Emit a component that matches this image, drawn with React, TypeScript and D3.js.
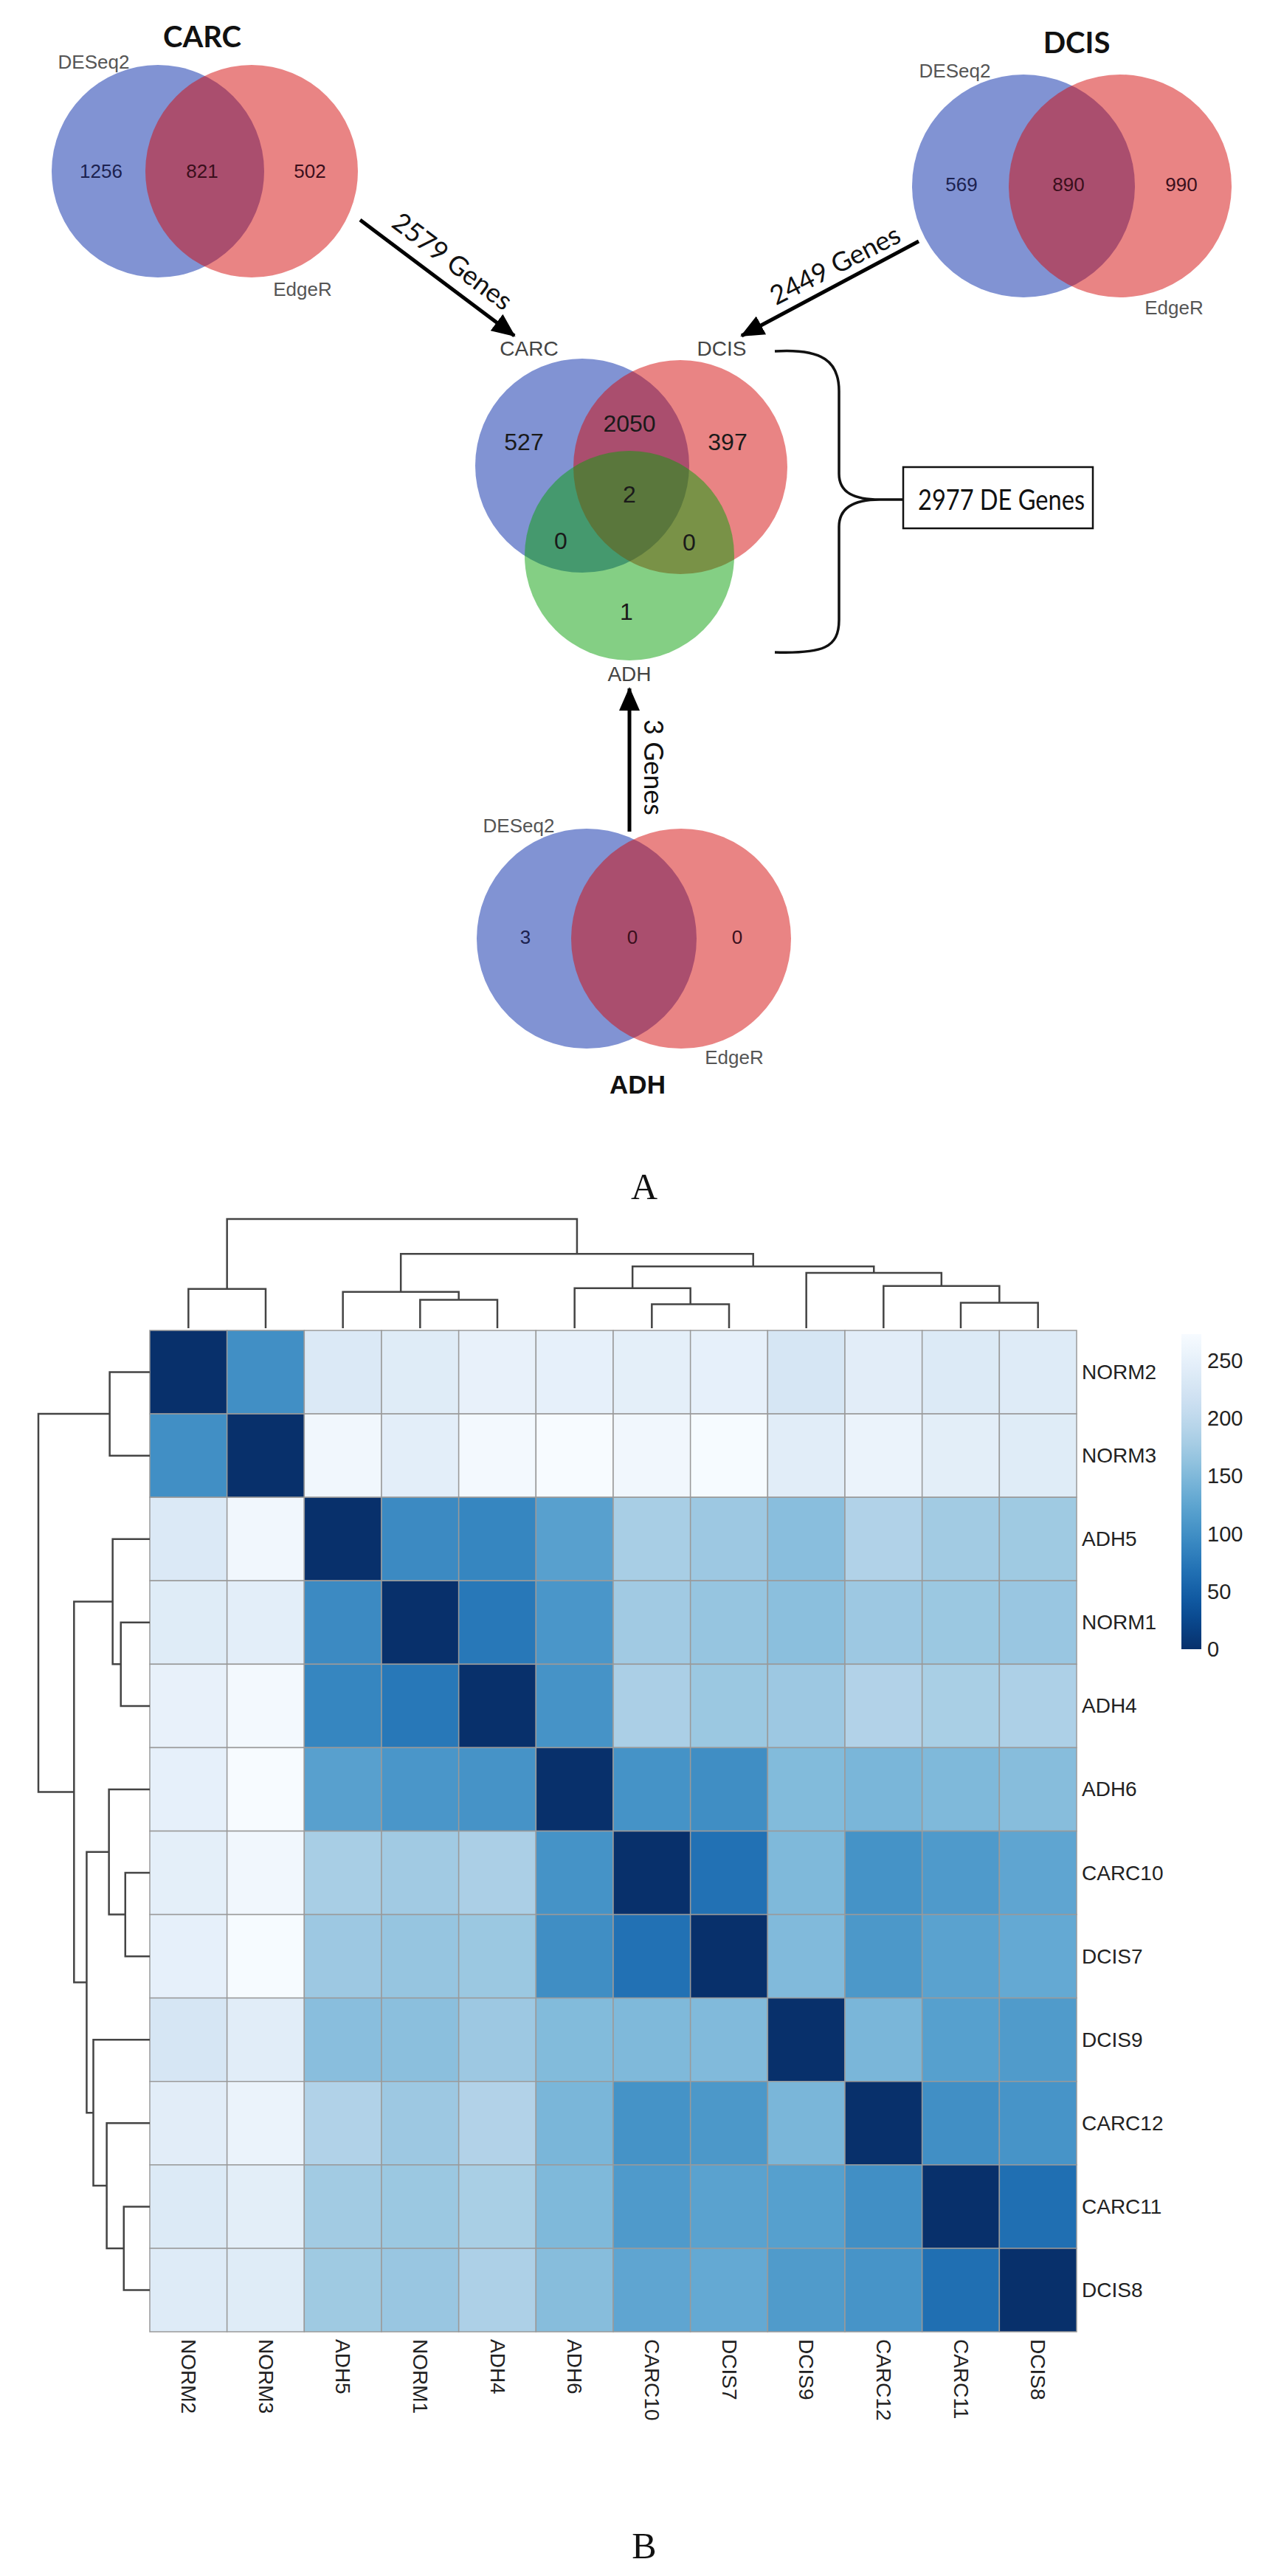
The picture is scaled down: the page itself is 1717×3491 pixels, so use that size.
import React from "react";
import * as d3 from "d3";

// ---------------- DATA ----------------
const methodLabels = ["DESeq2", "EdgeR"];
const carcCounts = [1256, 821, 502];
const dcisCounts = [569, 890, 990];
const adhCounts = [3, 0, 0];
const groupTitles = ["CARC", "DCIS", "ADH"];
const arrowLabels = ["2579 Genes", "2449 Genes", "3 Genes"];
// triple venn regions: CARC only, CARC∩DCIS, DCIS only, CARC∩ADH, all, DCIS∩ADH, ADH only
const tripleCounts = [527, 2050, 397, 0, 2, 0, 1];
const totalLabel = "2977 DE Genes";
const panelLabels = ["A", "B"];

const samples = ["NORM2", "NORM3", "ADH5", "NORM1", "ADH4", "ADH6", "CARC10", "DCIS7", "DCIS9", "CARC12", "CARC11", "DCIS8"];
const distNORM2 = [0, 100, 235, 240, 252, 250, 247, 250, 228, 244, 236, 238];
const distNORM3 = [100, 0, 265, 246, 268, 273, 265, 272, 243, 257, 245, 240];
const distADH5 = [235, 265, 0, 95, 90, 120, 180, 171, 157, 187, 175, 173];
const distNORM1 = [240, 246, 95, 0, 75, 108, 174, 166, 158, 171, 170, 168];
const distADH4 = [252, 268, 90, 75, 0, 105, 182, 170, 171, 188, 181, 184];
const distADH6 = [250, 273, 120, 108, 105, 0, 104, 99, 152, 146, 150, 155];
const distCARC10 = [247, 265, 180, 174, 182, 104, 0, 68, 150, 104, 113, 126];
const distDCIS7 = [250, 272, 171, 166, 170, 99, 68, 0, 151, 110, 122, 130];
const distDCIS9 = [228, 243, 157, 158, 171, 152, 150, 151, 0, 146, 119, 114];
const distCARC12 = [244, 257, 187, 171, 188, 146, 104, 110, 146, 0, 100, 106];
const distCARC11 = [236, 245, 175, 170, 181, 150, 113, 122, 119, 100, 0, 66];
const distDCIS8 = [238, 240, 173, 168, 184, 155, 126, 130, 114, 106, 66, 0];
const distRows = [distNORM2, distNORM3, distADH5, distNORM1, distADH4, distADH6, distCARC10, distDCIS7, distDCIS9, distCARC12, distCARC11, distDCIS8];
const colorbarTicks = [0, 50, 100, 150, 200, 250];
const colorMax = 273;

// hierarchical merges: [child A, child B, height]; merged node ids m1..m11
const merges: [string, string, number][] = [
  ["NORM2", "NORM3", 54],
  ["NORM1", "ADH4", 39],
  ["ADH5", "m2", 50],
  ["CARC10", "DCIS7", 33],
  ["ADH6", "m4", 55],
  ["CARC11", "DCIS8", 35],
  ["CARC12", "m6", 58],
  ["DCIS9", "m7", 76],
  ["m5", "m8", 85],
  ["m3", "m9", 102],
  ["m1", "m10", 150],
];

// ---------------- HELPERS ----------------
type TNode = { id: string; h: number; children?: TNode[] };
function buildTree(): TNode {
  const map = new Map<string, TNode>();
  samples.forEach((s) => map.set(s, { id: s, h: 0 }));
  merges.forEach(([a, b, h], i) => {
    const id = "m" + (i + 1);
    map.set(id, { id, h, children: [map.get(a)!, map.get(b)!] });
  });
  return map.get("m" + merges.length)!;
}

const SANS = "'Liberation Sans', Arial, sans-serif";
const CAL = "Lato, 'Open Sans', sans-serif";
const SERIF = "'Liberation Serif', 'Times New Roman', serif";

const BLUE = "#8193d3";
const RED = "#d40a0a";
const GREEN = "#099f09";

function Venn2(props: {
  c1: number; c2: number; cy: number; r: number; counts: number[];
  title: string; titlePos: [number, number]; deseqPos: [number, number]; edgePos: [number, number];
  countX: number[]; countY: number; titleBold: "cal" | "sans";
}) {
  const { c1, c2, cy, r, counts, title, titlePos, deseqPos, edgePos, countX, countY } = props;
  return (
    <g>
      <circle cx={c1} cy={cy} r={r} fill={BLUE} />
      <circle cx={c2} cy={cy} r={r} fill={RED} fillOpacity={0.5} />
      <text x={titlePos[0]} y={titlePos[1]} textAnchor="middle" dominantBaseline="central"
        fontFamily={props.titleBold === "cal" ? CAL : SANS} fontWeight="bold"
        fontSize={props.titleBold === "cal" ? 40 : 35} fill="#111">{title}</text>
      <text x={deseqPos[0]} y={deseqPos[1]} textAnchor="middle" dominantBaseline="central" fontFamily={SANS} fontSize={26} fill="#555">{methodLabels[0]}</text>
      <text x={edgePos[0]} y={edgePos[1]} textAnchor="middle" dominantBaseline="central" fontFamily={SANS} fontSize={26} fill="#555">{methodLabels[1]}</text>
      {counts.map((c, i) => (
        <text key={i} x={countX[i]} y={countY} textAnchor="middle" dominantBaseline="central" fontFamily={SANS} fontSize={26}
          fill={i === 0 ? "#1c2250" : "#3a0f1c"}>{c}</text>
      ))}
    </g>
  );
}

export default function App() {
  const W = 1717, H = 3491;
  const tree = d3.hierarchy<TNode>(buildTree(), (d) => d.children);
  const xBand = d3.scaleBand<string>().domain(samples).range([203, 1459]);
  const yBand = d3.scaleBand<string>().domain(samples).range([1803, 3160]);
  const colH = d3.scaleLinear().domain([0, 150]).range([1800, 1652]);
  const rowH = d3.scaleLinear().domain([0, 150]).range([203, 52]);
  const color = d3.scaleSequential((t: number) => d3.interpolateBlues(1 - t)).domain([0, colorMax]);
  const cb = d3.scaleLinear().domain([0, colorMax]).range([2235, 1808]);

  const pos = new Map<d3.HierarchyNode<TNode>, number>();
  tree.eachAfter((n) => {
    if (!n.children) pos.set(n, samples.indexOf(n.data.id));
    else pos.set(n, d3.mean(n.children, (c) => pos.get(c)!)!);
  });
  const idxToX = (p: number) => 203 + (p + 0.5) * xBand.bandwidth();
  const idxToY = (p: number) => 1803 + (p + 0.5) * yBand.bandwidth();

  const colSegs: string[] = [];
  const rowSegs: string[] = [];
  tree.each((n) => {
    if (!n.children) return;
    const [a, b] = n.children;
    const pa = pos.get(a)!, pb = pos.get(b)!;
    const hy = colH(n.data.h);
    colSegs.push(`M${idxToX(pa)},${colH(a.data.h)}V${hy}H${idxToX(pb)}V${colH(b.data.h)}`);
    const hx = rowH(n.data.h);
    rowSegs.push(`M${rowH(a.data.h)},${idxToY(pa)}H${hx}V${idxToY(pb)}H${rowH(b.data.h)}`);
  });

  const gradStops = d3.range(0, 1.0001, 0.05);

  return (
    <svg width={W} height={H} viewBox={`0 0 ${W} ${H}`} style={{ position: "absolute", left: 0, top: 0, background: "#fff" }}>
      <defs>
        <marker id="ah" markerUnits="userSpaceOnUse" markerWidth={34} markerHeight={28} refX={30} refY={14} orient="auto">
          <path d="M0,0 L32,14 L0,28 Z" fill="#000" />
        </marker>
        <linearGradient id="cbg" x1="0" y1="1" x2="0" y2="0">
          {gradStops.map((t) => (
            <stop key={t} offset={t} stopColor={color(t * colorMax)} />
          ))}
        </linearGradient>
      </defs>
      <rect x={0} y={0} width={W} height={H} fill="#fff" />

      {/* ---- Panel A ---- */}
      <Venn2 c1={214} c2={341} cy={232} r={144} counts={carcCounts} title={groupTitles[0]}
        titlePos={[274, 49]} deseqPos={[127, 84]} edgePos={[410, 392]} countX={[137, 274, 420]} countY={232} titleBold="cal" />
      <Venn2 c1={1387} c2={1518} cy={252} r={151} counts={dcisCounts} title={groupTitles[1]}
        titlePos={[1459, 57]} deseqPos={[1294, 96]} edgePos={[1591, 417]} countX={[1303, 1448, 1601]} countY={250} titleBold="cal" />
      <Venn2 c1={795} c2={923} cy={1272} r={149} counts={adhCounts} title={groupTitles[2]}
        titlePos={[864, 1469]} deseqPos={[703, 1119]} edgePos={[995, 1433]} countX={[712, 857, 999]} countY={1270} titleBold="sans" />

      {/* arrows */}
      <line x1={488} y1={298} x2={697} y2={455} stroke="#000" strokeWidth={5} markerEnd="url(#ah)" />
      <text transform={`translate(614,353) rotate(37)`} textAnchor="middle" dominantBaseline="central" fontFamily={CAL} fontSize={36} fill="#111">{arrowLabels[0]}</text>
      <line x1={1245} y1={327} x2={1005} y2={455} stroke="#000" strokeWidth={5} markerEnd="url(#ah)" />
      <text transform={`translate(1131,358) rotate(-27)`} textAnchor="middle" dominantBaseline="central" fontFamily={CAL} fontSize={36} fill="#111">{arrowLabels[1]}</text>
      <line x1={853} y1={1127} x2={853} y2={933} stroke="#000" strokeWidth={5} markerEnd="url(#ah)" />
      <text transform={`translate(887,1040) rotate(90)`} textAnchor="middle" dominantBaseline="central" fontFamily={CAL} fontSize={36} fill="#111">{arrowLabels[2]}</text>

      {/* triple venn */}
      <g>
        <circle cx={789} cy={631} r={145} fill={BLUE} />
        <circle cx={922} cy={633} r={145} fill={RED} fillOpacity={0.5} />
        <circle cx={853} cy={753} r={142} fill={GREEN} fillOpacity={0.5} />
        <text x={717} y={472} textAnchor="middle" dominantBaseline="central" fontFamily={SANS} fontSize={28} fill="#444">{groupTitles[0]}</text>
        <text x={978} y={472} textAnchor="middle" dominantBaseline="central" fontFamily={SANS} fontSize={28} fill="#444">{groupTitles[1]}</text>
        <text x={853} y={913} textAnchor="middle" dominantBaseline="central" fontFamily={SANS} fontSize={28} fill="#444">{groupTitles[2]}</text>
        {tripleCounts.map((c, i) => {
          const p = [[710, 599], [853, 574], [986, 599], [760, 733], [853, 670], [934, 735], [849, 829]][i];
          return (
            <text key={i} x={p[0]} y={p[1]} textAnchor="middle" dominantBaseline="central" fontFamily={SANS} fontSize={32} fill="#1a1a1a">{c}</text>
          );
        })}
      </g>

      {/* brace and box */}
      <path d="M1050,476 C1115,472 1137,490 1137,530 L1137,642 C1137,668 1158,677 1192,677 L1224,677 M1192,677 C1158,677 1137,688 1137,714 L1137,840 C1137,878 1115,886 1050,884"
        fill="none" stroke="#111" strokeWidth={3.5} />
      <rect x={1224} y={633} width={257} height={83} fill="#fff" stroke="#111" strokeWidth={2.5} />
      <text x={1244} y={676} dominantBaseline="central" fontFamily={CAL} fontSize={39} textLength={226} lengthAdjust="spacingAndGlyphs" fill="#111">{totalLabel}</text>

      <text x={873} y={1608} textAnchor="middle" dominantBaseline="central" fontFamily={SERIF} fontSize={50} fill="#111">{panelLabels[0]}</text>

      {/* ---- Panel B: heatmap ---- */}
      <g>
        {distRows.map((row, i) =>
          row.map((v, j) => (
            <rect key={`${i}-${j}`} x={xBand(samples[j])} y={yBand(samples[i])} width={xBand.bandwidth()} height={yBand.bandwidth()}
              fill={color(v)} stroke="#9a9a9a" strokeWidth={1.5} />
          ))
        )}
      </g>
      <path d={colSegs.join("")} fill="none" stroke="#444" strokeWidth={2.5} />
      <path d={rowSegs.join("")} fill="none" stroke="#444" strokeWidth={2.5} />

      {samples.map((s) => (
        <text key={"r" + s} x={1466} y={yBand(s)! + yBand.bandwidth() / 2} dominantBaseline="central" fontFamily={SANS} fontSize={28} fill="#222">{s}</text>
      ))}
      {samples.map((s) => (
        <text key={"c" + s} transform={`translate(${xBand(s)! + xBand.bandwidth() / 2},3170) rotate(90)`} dominantBaseline="central"
          fontFamily={SANS} fontSize={28} fill="#222">{s}</text>
      ))}

      {/* colorbar */}
      <rect x={1601} y={cb(colorMax)} width={27} height={cb(0) - cb(colorMax)} fill="url(#cbg)" />
      {colorbarTicks.map((t) => (
        <text key={t} x={1636} y={cb(t)} dominantBaseline="central" fontFamily={SANS} fontSize={29} fill="#222">{t}</text>
      ))}

      <text x={873} y={3450} textAnchor="middle" dominantBaseline="central" fontFamily={SERIF} fontSize={50} fill="#111">{panelLabels[1]}</text>
    </svg>
  );
}
